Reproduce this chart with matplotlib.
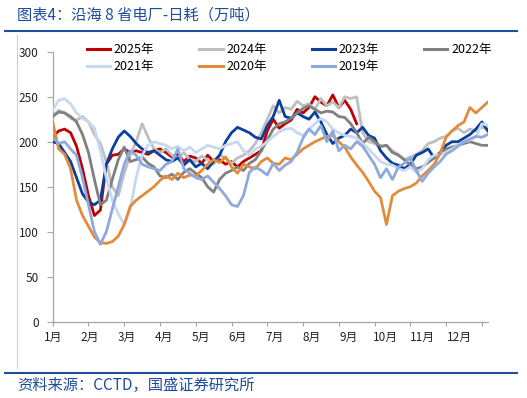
import numpy as np
import matplotlib
matplotlib.use('Agg')
import matplotlib.pyplot as plt
from matplotlib.lines import Line2D

# Typsnitt med kinesiska tecken
plt.rcParams['font.family'] = ['Noto Sans CJK SC', 'DejaVu Sans']

# Dag på året, var femte dag
dagar = np.arange(0, 366, 5)
manader = ['1月', '2月', '3月', '4月', '5月', '6月', '7月', '8月', '9月', '10月', '11月', '12月']

# Dagsförbrukning (万吨)
ar_2025 = [205, 212, 214, 210, 195, 170, 140, 118, 124, 175,
           185, 186, 192, 188, 190, 188, 186, 190, 192, 188,
           183, 186, 178, 184, 182, 176, 185, 178, 180, 175,
           178, 172, 178, 182, 186, 190, 212, 225, 215, 220,
           224, 236, 232, 238, 250, 244, 240, 252, 238, 246,
           236, 220]
ar_2024 = [228, 235, 232, 226, 224, 228, 222, 208, 198, 178,
           150, 140, 165, 185, 200, 220, 205, 192, 188, 192,
           185, 182, 188, 180, 178, 184, 180, 175, 185, 182,
           176, 182, 185, 190, 198, 210, 225, 240, 232, 238,
           236, 245, 240, 242, 236, 248, 240, 244, 238, 250,
           248, 250, 210, 200, 198, 194, 196, 190, 186, 180,
           183, 186, 190, 198, 200, 204, 206, 212, 215, 210,
           214, 212, 216, 214]
ar_2023 = [200, 198, 188, 178, 160, 142, 133, 130, 135, 175,
           192, 205, 212, 206, 198, 192, 188, 190, 185, 180,
           178, 182, 174, 180, 172, 176, 170, 178, 185, 200,
           210, 216, 213, 210, 205, 203, 218, 228, 246, 228,
           226, 232, 228, 225, 233, 222, 208, 198, 204, 207,
           214, 210, 216, 207, 204, 190, 182, 176, 174, 170,
           175, 185, 188, 192, 182, 188, 196, 200, 200, 204,
           208, 214, 222, 212]
ar_2022 = [228, 233, 232, 228, 222, 208, 188, 158, 130, 135,
           158, 180, 194, 178, 180, 183, 176, 172, 162, 160,
           164, 158, 166, 170, 165, 160, 150, 144, 158, 165,
           168, 172, 168, 176, 180, 190, 202, 214, 220, 222,
           226, 232, 237, 240, 236, 232, 234, 233, 228, 227,
           220, 210, 198, 205, 200, 195, 196, 188, 185, 180,
           174, 170, 172, 177, 182, 186, 192, 194, 196, 198,
           200, 198, 196, 196]
ar_2021 = [235, 246, 248, 242, 232, 226, 222, 215, 190, 160,
           135, 120, 108, 125, 160, 185, 196, 200, 198, 196,
           192, 195, 190, 194, 188, 192, 196, 194, 192, 196,
           198, 200, 190, 185, 192, 195, 200, 206, 211, 214,
           215, 210, 207, 214, 220, 226, 222, 214, 210, 207,
           206, 204, 198, 192, 185, 178, 175, 174, 170, 168,
           172, 166, 170, 180, 185, 186, 188, 192, 196, 200,
           202, 205, 220, 218]
ar_2020 = [222, 192, 186, 170, 135, 118, 106, 94, 88, 87,
           89, 95, 108, 128, 135, 140, 145, 150, 157, 162,
           158, 165, 160, 163, 162, 168, 175, 180, 177, 183,
           172, 165, 175, 172, 170, 178, 182, 176, 175, 182,
           180, 186, 192, 196, 200, 203, 206, 207, 200, 194,
           183, 174, 166, 156, 145, 138, 108, 140, 145, 148,
           150, 154, 162, 168, 175, 187, 205, 212, 218, 222,
           238, 232, 238, 244]
ar_2019 = [205, 198, 200, 192, 185, 160, 130, 100, 86, 100,
           125, 150, 175, 190, 185, 175, 172, 170, 168, 175,
           178, 192, 170, 165, 160, 158, 162, 155, 148, 140,
           130, 128, 140, 166, 172, 168, 163, 176, 168, 174,
           178, 188, 204, 214, 208, 218, 200, 212, 190, 196,
           192, 200, 195, 185, 175, 160, 170, 158, 172, 176,
           182, 168, 156, 165, 172, 178, 186, 190, 195, 200,
           203, 206, 205, 208]

serier = [
    ('2025年', ar_2025, '#C00000'),
    ('2024年', ar_2024, '#BFBFBF'),
    ('2023年', ar_2023, '#0A3F9C'),
    ('2022年', ar_2022, '#808080'),
    ('2021年', ar_2021, '#C6D9F0'),
    ('2020年', ar_2020, '#E38B3D'),
    ('2019年', ar_2019, '#8EA9DB'),
]

bla = '#1E4D9B'
gra = '#A6A6A6'

fig = plt.figure(figsize=(5.27, 3.98), dpi=100)
ax = fig.add_axes([0.1, 0.1917, 0.8256, 0.6783])

linjer = {}
for i, (namn, varden, farg) in enumerate(serier):
    l, = ax.plot(dagar[:len(varden)], varden, color=farg, lw=2.0, zorder=2 + i)
    linjer[namn] = l

ax.set_xlim(0, 365)
ax.set_ylim(0, 300)

for s in ['top', 'right']:
    ax.spines[s].set_visible(False)
for s in ['left', 'bottom']:
    ax.spines[s].set_color(gra)
    ax.spines[s].set_linewidth(0.9)

ax.set_yticks(range(0, 301, 50))
ax.tick_params(axis='y', length=4, width=0.8, color=gra, pad=6, labelsize=8.5, labelcolor='#222222')

# Streck vid varje månadsgräns, etiketter separat
ax.xaxis.remove_overlapping_locs = False
ax.set_xticks(np.arange(13) * 30)
ax.set_xticklabels([])
ax.set_xticks(np.arange(12) * 31, minor=True)
ax.set_xticklabels(manader, minor=True)
ax.tick_params(axis='x', which='major', length=3, width=0.8, color=gra)
ax.tick_params(axis='x', which='minor', length=0, pad=7, labelsize=8.5, labelcolor='#222222')

# Legend radvis: 2025..2022 överst, 2021..2019 under
ordning = ['2025年', '2021年', '2024年', '2020年', '2023年', '2019年', '2022年']
handtag = [Line2D([0], [0], color=linjer[n].get_color(), lw=2.2) for n in ordning]
ax.legend(handtag, ordning, ncol=4, loc='upper left',
          bbox_to_anchor=(87 / 527, 1 - 43.5 / 398), bbox_transform=fig.transFigure,
          frameon=False, borderpad=0, borderaxespad=0, fontsize=9,
          handlelength=1.85, handletextpad=0.3, columnspacing=3.6, labelspacing=0.3)

# Rubrik, källa och ramlinjer
fig.text(17 / 527, 1 - 15 / 398, '图表4：沿海 8 省电厂-日耗（万吨）', color=bla, fontsize=11, va='center', ha='left')
fig.text(17 / 527, 1 - 385 / 398, '资料来源：CCTD，国盛证券研究所', color=bla, fontsize=11, va='center', ha='left')
fig.add_artist(Line2D([5 / 527, 517 / 527], [1 - 31 / 398] * 2, color=bla, lw=1.5))
fig.add_artist(Line2D([5 / 527, 517 / 527], [1 - 372.7 / 398] * 2, color=bla, lw=1.5))
fig.add_artist(Line2D([17 / 527] * 2, [1 - 35 / 398, 1 - 368 / 398], color='#D0D0D0', lw=0.8))

fig.savefig('out.png', dpi=100)
